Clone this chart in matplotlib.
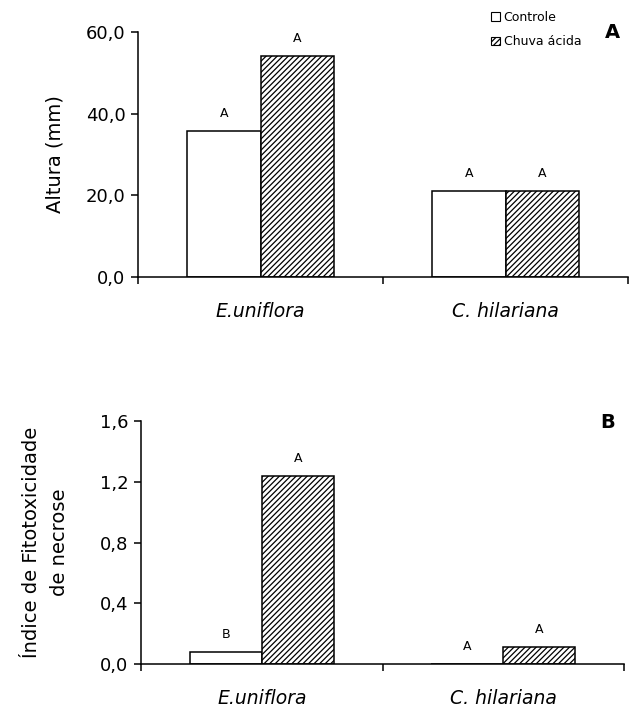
import matplotlib.pyplot as plt
from matplotlib.patches import Patch
from matplotlib.ticker import FuncFormatter
import numpy as np

plt.rcParams['font.family'] = ['DejaVu Sans']
plt.rcParams['hatch.linewidth'] = 0.9

categories = ['E.uniflora', 'C. hilariana']
series_names = ['Controle', 'Chuva ácida']

altura_controle = [35.8, 21.1]
altura_chuva = [54.2, 21.1]
letras_altura_controle = ['A', 'A']
letras_altura_chuva = ['A', 'A']

necrose_controle = [0.08, 0.0]
necrose_chuva = [1.24, 0.11]
letras_necrose_controle = ['B', 'A']
letras_necrose_chuva = ['A', 'A']

W, H = 629, 710
fig = plt.figure(figsize=(W / 100, H / 100), dpi=100)

ax_a = fig.add_axes([138 / W, 1 - 277 / H, (628 - 138) / W, (277 - 32) / H])
ax_b = fig.add_axes([141 / W, 1 - 664 / H, (624 - 141) / W, (664 - 421) / H])

x = np.array([0.5, 1.5])
bw = 0.298


def comma(fmt):
    return FuncFormatter(lambda v, p: (fmt % v).replace('.', ','))


def draw(ax, ctrl, chuva, l_ctrl, l_chuva, ymax, step, fmt):
    ax.bar(x - bw / 2, ctrl, bw, color='white', edgecolor='black', linewidth=1.1)
    ax.bar(x + bw / 2, chuva, bw, color='white', edgecolor='black', linewidth=1.1,
           hatch='//////')
    for xi, v, t in zip(x - bw / 2, ctrl, l_ctrl):
        ax.annotate(t, (xi, v), xytext=(0, 8), textcoords='offset points',
                    ha='center', va='bottom', fontsize=9)
    for xi, v, t in zip(x + bw / 2, chuva, l_chuva):
        ax.annotate(t, (xi, v), xytext=(0, 8), textcoords='offset points',
                    ha='center', va='bottom', fontsize=9)
    ax.set_xlim(0, 2)
    ax.set_ylim(0, ymax)
    ax.set_yticks(np.arange(0, ymax + step / 2, step))
    ax.yaxis.set_major_formatter(comma(fmt))
    ax.set_xticks([0, 1, 2])
    ax.set_xticklabels([])
    ax.set_xticks(x, minor=True)
    ax.set_xticklabels(categories, minor=True, style='italic', fontsize=13.5)
    ax.tick_params(axis='x', which='major', direction='out', length=5, width=1.1)
    ax.tick_params(axis='x', which='minor', length=0, pad=18)
    ax.tick_params(axis='y', direction='out', length=5, width=1.1, labelsize=13, pad=4)
    for s in ['top', 'right']:
        ax.spines[s].set_visible(False)
    for s in ['left', 'bottom']:
        ax.spines[s].set_linewidth(1.1)
        ax.spines[s].set_clip_on(False)


draw(ax_a, altura_controle, altura_chuva, letras_altura_controle,
     letras_altura_chuva, 60, 20, '%.1f')
draw(ax_b, necrose_controle, necrose_chuva, letras_necrose_controle,
     letras_necrose_chuva, 1.6, 0.4, '%.1f')

ax_a.set_ylabel('Altura (mm)', fontsize=14, labelpad=15)
ax_b.set_ylabel('Índice de Fitotoxicidade\nde necrose', fontsize=14, labelpad=22,
                linespacing=1.65)

fig.text(612 / W, 1 - 33 / H, 'A', fontsize=14, fontweight='bold',
         ha='center', va='center')
fig.text(608 / W, 1 - 423 / H, 'B', fontsize=14, fontweight='bold',
         ha='center', va='center')

handles = [Patch(facecolor='white', edgecolor='black', linewidth=0.8),
           Patch(facecolor='white', edgecolor='black', linewidth=0.8, hatch='//////')]
fig.legend(handles, series_names, loc='upper left',
           bbox_to_anchor=(486 / W, 1 - 6 / H), frameon=False, fontsize=9,
           handlelength=0.7, handleheight=0.7, handletextpad=0.3,
           labelspacing=0.9, borderaxespad=0)

fig.savefig('out.png', dpi=100)
